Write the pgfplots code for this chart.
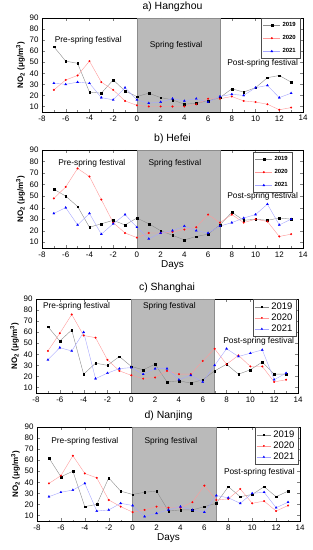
\documentclass[border=0pt]{standalone}
\usepackage{pgfplots}
\pgfplotsset{compat=1.18}
\usepackage{fontspec}
\setmainfont{Liberation Sans}

\pgfplotsset{
 panel/.style={scale only axis, width=261bp, height=94bp,
   xmin=-8, xmax=14, ymin=5, ymax=90,
   xtick={-8,-6,...,14}, ytick={10,20,...,90},
   tick align=inside, minor x tick num=1,
   major tick length=3bp, minor tick length=1.5bp,
   tick label style={font=\fontsize{8}{9}\selectfont},
   /pgf/number format/assume math mode=true,
   ylabel={\bfseries NO\textsubscript{2} (μg/m\textsuperscript{3})},
   ylabel style={font=\fontsize{8}{9}\selectfont, yshift=-2bp},
   xlabel style={font=\fontsize{10}{11}\selectfont, yshift=3bp},
   title style={font=\fontsize{10.5}{12}\selectfont, yshift=-3bp},
   legend cell align=left,
   axis line style={line width=0.6pt},
 },
 smallleg/.style={legend style={font=\fontsize{6}{7}\selectfont\bfseries, at={(1,1)}, anchor=north east, xshift=-3bp, row sep=3.5bp, inner sep=2bp, draw=black!70}},
 bigleg/.style={legend style={font=\fontsize{9.5}{10}\selectfont, at={(1,1)}, anchor=north east, xshift=-2bp, row sep=-1bp, inner sep=1.5bp, draw=black!70}, legend image post style={scale=0.85}},
 s19/.style={black!45, line width=0.4pt, mark=square*, mark size=0.85pt, mark options={black, fill=black, line width=0.2pt}},
 s20/.style={red!40, line width=0.4pt, mark=*, mark size=0.9pt, mark options={red, fill=red, line width=0.2pt}},
 s21/.style={blue!35, line width=0.4pt, mark=triangle*, mark size=1.3pt, mark options={blue, fill=blue, line width=0.2pt}},
 shade/.style={fill=black!27, draw=black!45, line width=0.6pt, forget plot},
}

\begin{document}
\begin{tikzpicture}
\path[use as bounding box] (0bp,0bp) rectangle (313bp,550bp);

% a) Hangzhou
\begin{axis}[panel, smallleg, at={(42bp,438bp)}, anchor=south west, title={a) Hangzhou}]
\addplot[shade] coordinates {(0,5) (0,90) (7,90) (7,5)} -- cycle;
\addplot[s19] coordinates {(-7,64)(-6,51)(-5,49)(-4,23)(-3,22)(-2,34)(-1,24)(0,19)(1,22)(2,18)(3,16)(4,12)(5,13)(6,15)(7,18)(8,26)(9,23)(10,27)(11,36)(12,38)(13,32)};
\addplot[s20] coordinates {(-7,25)(-6,34)(-5,38)(-4,51)(-3,32)(-2,25)(-1,15)(0,11)(1,10)(2,10)(3,10)(4,10)(5,12)(6,17)(7,17)(8,19)(9,15)(10,14)(11,12)(12,7)(13,9)};
\addplot[s21] coordinates {(-7,31)(-6,30)(-5,32)(-4,31)(-3,18)(-2,16)(-1,27)(0,16)(1,13)(2,14)(3,17)(4,15)(5,17)(6,14)(7,19)(8,21)(9,20)(10,27)(11,29)(12,18)(13,22)};
\legend{2019,2020,2021}
\node[font=\fontsize{8.4}{9}\selectfont] at (axis cs:-4.1,70) {Pre-spring festival};
\node[font=\fontsize{8.4}{9}\selectfont] at (axis cs:3.3,65) {Spring festival};
\node[font=\fontsize{8.4}{9}\selectfont] at (axis cs:10.6,49) {Post-spring festival};
\end{axis}

% b) Hefei
\begin{axis}[panel, smallleg, at={(42bp,302bp)}, anchor=south west, height=98bp, title={b) Hefei}, xlabel={Days},
  legend style={xshift=-8bp, yshift=-2bp}]
\addplot[shade] coordinates {(0,5) (0,90) (7,90) (7,5)} -- cycle;
\addplot[s19] coordinates {(-7,56)(-6,50)(-5,41)(-4,23)(-3,26)(-2,29)(-1,25)(0,31)(1,26)(2,20)(3,16)(4,12)(5,15)(6,17)(7,25)(8,36)(9,29)(10,30)(11,29)(12,31)(13,30)};
\addplot[s20] coordinates {(-7,48)(-6,58)(-5,74)(-4,67)(-3,47)(-2,27)(-1,18)(0,14)(1,18)(2,18)(3,19)(4,21)(5,23)(6,34)(7,27)(8,34)(9,27)(10,30)(11,28)(12,15)(13,17)};
\addplot[s21] coordinates {(-7,35)(-6,40)(-5,25)(-4,35)(-3,17)(-2,26)(-1,34)(0,23)(1,13)(2,18)(3,20)(4,24)(5,20)(6,18)(7,24)(8,27)(9,31)(10,34)(11,43)(12,25)(13,30)};
\legend{2019,2020,2021}
\node[font=\fontsize{8.4}{9}\selectfont] at (axis cs:-3.8,78) {Pre-spring festival};
\node[font=\fontsize{8.4}{9}\selectfont] at (axis cs:3.2,78) {Spring festival};
\node[font=\fontsize{8.4}{9}\selectfont] at (axis cs:10.6,50) {Post-spring festival};
\end{axis}

% c) Shanghai
\begin{axis}[panel, bigleg, at={(36bp,157bp)}, anchor=south west, width=262bp, title={c) Shanghai}]
\addplot[shade] coordinates {(0,5) (0,90) (7,90) (7,5)} -- cycle;
\addplot[s19] coordinates {(-7,65)(-6,52)(-5,62)(-4,22)(-3,32)(-2,30)(-1,38)(0,29)(1,26)(2,31)(3,15)(4,16)(5,14)(6,17)(7,25)(8,31)(9,22)(10,26)(11,33)(12,22)(13,22)};
\addplot[s20] coordinates {(-7,43)(-6,59)(-5,76)(-4,57)(-3,55)(-2,35)(-1,25)(0,21)(1,18)(2,19)(3,25)(4,22)(5,22)(6,34)(7,45)(8,31)(9,39)(10,29)(11,29)(12,15)(13,17)};
\addplot[s21] coordinates {(-7,35)(-6,46)(-5,43)(-4,60)(-3,18)(-2,23)(-1,27)(0,28)(1,22)(2,27)(3,27)(4,17)(5,21)(6,15)(7,30)(8,45)(9,38)(10,41)(11,44)(12,17)(13,23)};
\legend{2019,2020,2021}
\node[font=\fontsize{8.4}{9}\selectfont] at (axis cs:-4.6,83) {Pre-spring festival};
\node[font=\fontsize{8.4}{9}\selectfont] at (axis cs:3.2,83) {Spring festival};
\node[font=\fontsize{8.4}{9}\selectfont] at (axis cs:10.7,52) {Post-spring festival};
\end{axis}

% d) Nanjing
\begin{axis}[panel, bigleg, at={(37bp,29bp)}, anchor=south west, width=263bp, title={d) Nanjing}, xlabel={Days}]
\addplot[shade] coordinates {(0,5) (0,90) (7,90) (7,5)} -- cycle;
\addplot[s19] coordinates {(-7,62)(-6,45)(-5,50)(-4,18)(-3,20)(-2,44)(-1,32)(0,29)(1,31)(2,32)(3,14)(4,15)(5,15)(6,18)(7,21)(8,36)(9,27)(10,29)(11,36)(12,27)(13,32)};
\addplot[s20] coordinates {(-7,39)(-6,46)(-5,64)(-4,48)(-3,44)(-2,24)(-1,18)(0,13)(1,15)(2,18)(3,17)(4,17)(5,22)(6,37)(7,24)(8,25)(9,34)(10,21)(11,23)(12,14)(13,19)};
\addplot[s21] coordinates {(-7,27)(-6,31)(-5,33)(-4,39)(-3,14)(-2,15)(-1,21)(0,19)(1,9)(2,12)(3,15)(4,18)(5,15)(6,13)(7,28)(8,26)(9,21)(10,30)(11,31)(12,17)(13,22)};
\legend{2019,2020,2021}
\node[font=\fontsize{8.4}{9}\selectfont] at (axis cs:-4,77) {Pre-spring festival};
\node[font=\fontsize{8.4}{9}\selectfont] at (axis cs:3.2,77) {Spring festival};
\node[font=\fontsize{8.4}{9}\selectfont] at (axis cs:10.6,49) {Post-spring festival};
\end{axis}
\end{tikzpicture}
\end{document}
